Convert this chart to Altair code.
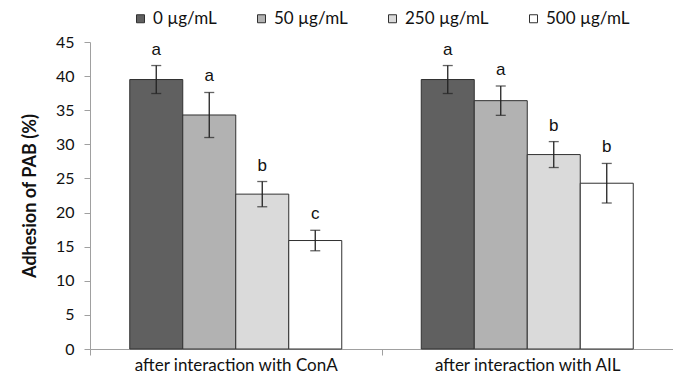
import altair as alt
import pandas as pd

groups = ["after interaction with ConA", "after interaction with AIL"]
concs = ["0 µg/mL", "50 µg/mL", "250 µg/mL", "500 µg/mL"]
colors = ["#606060", "#b2b2b2", "#dadada", "#ffffff"]
means_cona = [39.5, 34.3, 22.7, 15.9]
errs_cona = [2.05, 3.3, 1.85, 1.5]
letters_cona = ["a", "a", "b", "c"]
means_ail = [39.5, 36.4, 28.5, 24.3]
errs_ail = [2.05, 2.15, 1.9, 2.9]
letters_ail = ["a", "a", "b", "b"]
y_ticks = [0, 5, 10, 15, 20, 25, 30, 35, 40, 45]

rows = []
for g, ms, es, ls in [(groups[0], means_cona, errs_cona, letters_cona),
                      (groups[1], means_ail, errs_ail, letters_ail)]:
    for c, m, e, l in zip(concs, ms, es, ls):
        rows.append({"group": g, "conc": c, "mean": m, "lo": m - e, "hi": m + e, "letter": l})
df = pd.DataFrame(rows)

FONT = "Lato"
xaxis = alt.Axis(labelFontSize=17, labelFont=FONT, labelColor="#111",
                 labelBaseline="alphabetic", labelPadding=15, labelLimit=400,
                 tickBand="extent", tickSize=6,
                 domainColor="#a0a0a0", tickColor="#a0a0a0", labelAngle=0)
xscale = alt.Scale(paddingInner=0, paddingOuter=0)
yaxis = alt.Axis(values=y_ticks, grid=False, labelFontSize=16,
                 labelFont=FONT, labelColor="#111", titleFont=FONT,
                 titleFontSize=18, titleFontWeight="bold", titleColor="#111",
                 titlePadding=16, domainColor="#a0a0a0", tickColor="#a0a0a0",
                 tickSize=6, labelPadding=10)
yscale = alt.Scale(domain=[0, 45], nice=False)
ytitle = "Adhesion of PAB (%)"

def X():
    return alt.X("group:N", sort=groups, title=None, scale=xscale, axis=xaxis)

def Y(field):
    return alt.Y(field, title=ytitle, scale=yscale, axis=yaxis)

xoff = alt.XOffset("conc:N", sort=concs, scale=alt.Scale(paddingInner=0, paddingOuter=0.75))

base = alt.Chart(df)

bars = base.mark_bar(stroke="#303030", strokeWidth=1).encode(
    x=X(), xOffset=xoff, y=Y("mean:Q"),
    color=alt.Color("conc:N", sort=concs,
                    scale=alt.Scale(domain=concs, range=colors),
                    legend=alt.Legend(title=None, orient="none", direction="horizontal",
                                      legendX=42, legendY=-32, symbolType="square",
                                      symbolSize=64, symbolStrokeColor="#303030",
                                      symbolStrokeWidth=1, labelFontSize=17,
                                      labelFont=FONT, labelColor="#111",
                                      columnPadding=36, labelOffset=4)),
)

rules = base.mark_rule(color="#222", strokeWidth=1.3).encode(
    x=X(), xOffset=xoff, y=Y("lo:Q"), y2="hi:Q")
caps_lo = base.mark_tick(color="#222", thickness=1.3, size=10).encode(
    x=X(), xOffset=xoff, y=Y("lo:Q"))
caps_hi = base.mark_tick(color="#222", thickness=1.3, size=10).encode(
    x=X(), xOffset=xoff, y=Y("hi:Q"))
labels = base.mark_text(font="Liberation Sans", fontSize=17, baseline="bottom",
                        dy=-7, color="#111").encode(
    x=X(), xOffset=xoff, y=Y("hi:Q"), text="letter:N")

chart = alt.layer(bars, rules, caps_lo, caps_hi, labels).properties(
    width=583, height=307, autosize="none",
    padding={"left": 82, "top": 34, "right": 0, "bottom": 25}
).configure(background="white", view=alt.ViewConfig(strokeWidth=0))

chart.save("out.html", embed_options={"renderer": "svg", "actions": False})
